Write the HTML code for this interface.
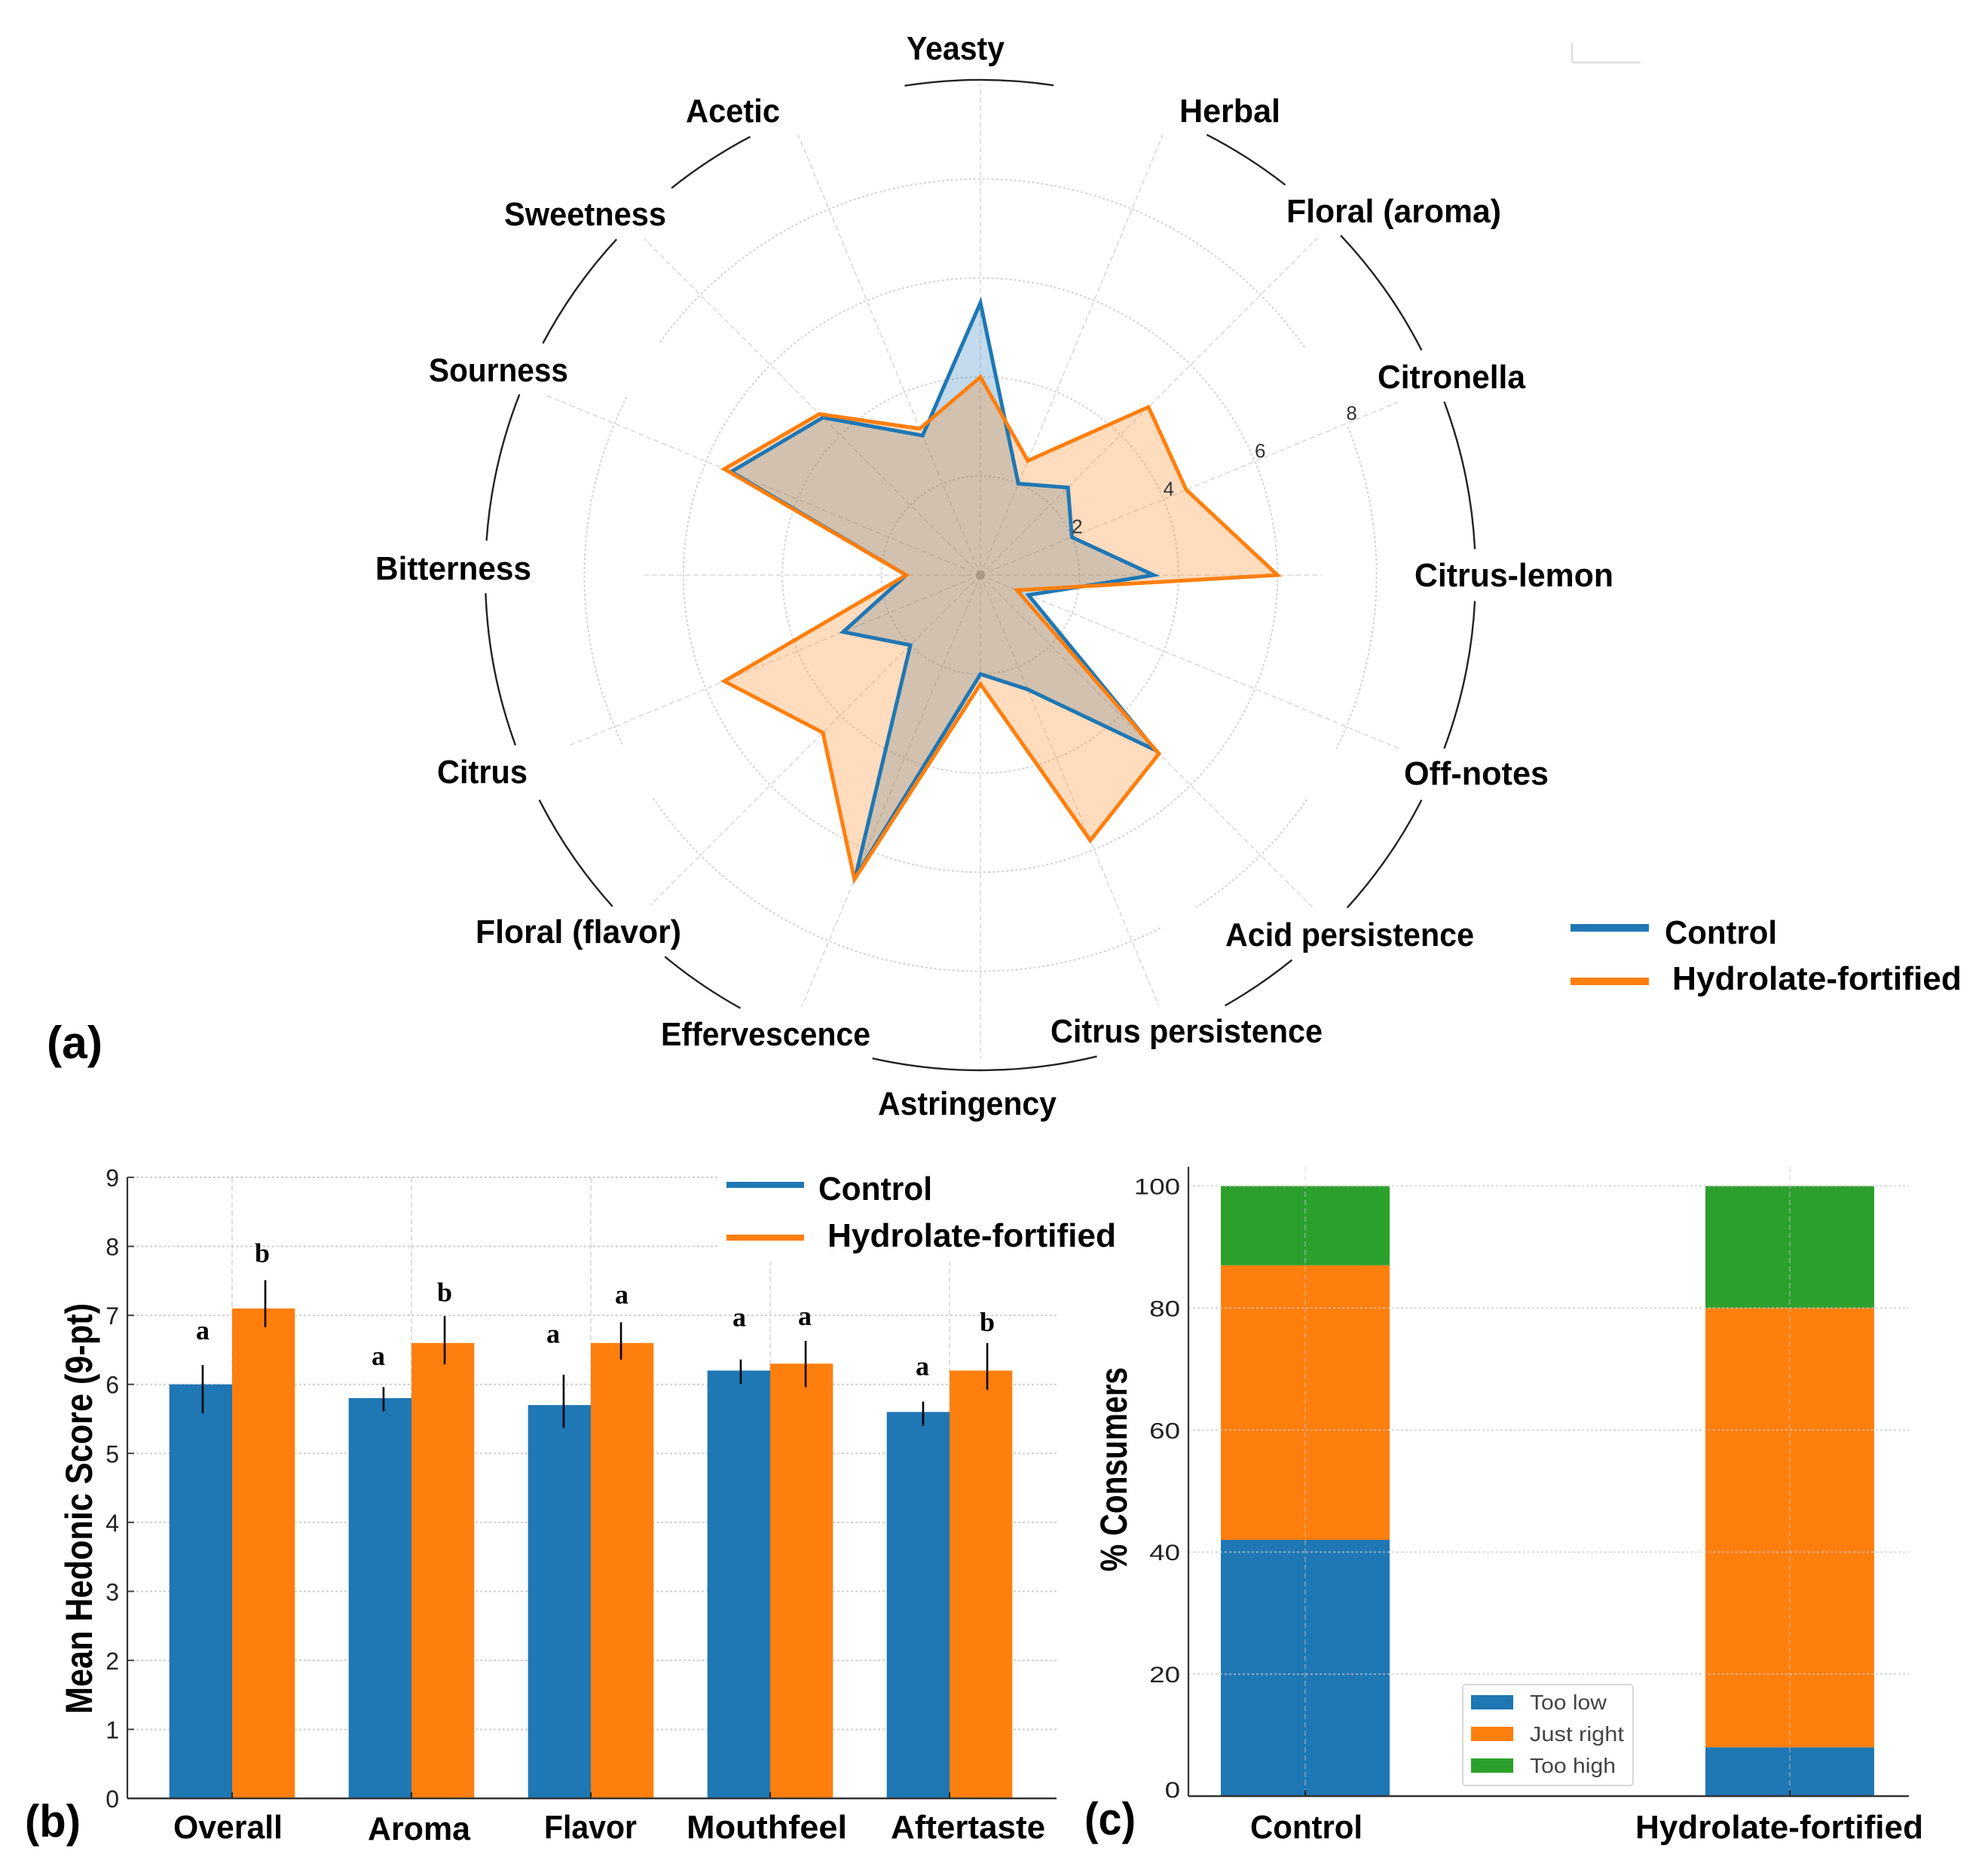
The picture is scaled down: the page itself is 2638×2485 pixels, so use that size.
<!DOCTYPE html>
<html lang="en">
<head>
<meta charset="utf-8">
<title>Sensory profile charts</title>
<style>
html,body{margin:0;padding:0;background:#fff;}
svg{display:block;}
text{font-family:"Liberation Sans","DejaVu Sans",sans-serif;}
.lab{font-weight:bold;font-size:44px;fill:#000;}
.title{font-weight:bold;font-size:50px;fill:#000;}
.panel{font-weight:bold;font-size:60px;fill:#000;}
</style>
</head>
<body>
<svg id="fig" xmlns="http://www.w3.org/2000/svg" width="2638" height="2485" viewBox="0 0 2638 2485">
  <rect width="2638" height="2485" fill="#fff"/>
  <g id="radar"></g>
  <g id="bars"></g>
  <g id="stack"></g>

  <path d="M2086,57 V81 Q2086,83 2089,83 H2177" fill="none" stroke="#dedede" stroke-width="2.5"/>

  <text class="panel" x="62" y="1404" textLength="74" lengthAdjust="spacingAndGlyphs">(a)</text>
  <text class="panel" x="33" y="2437" textLength="74" lengthAdjust="spacingAndGlyphs">(b)</text>
  <text class="panel" x="1439" y="2434" textLength="68" lengthAdjust="spacingAndGlyphs">(c)</text>

  <g>
    <rect x="2084" y="1226" width="104" height="10" fill="#1f77b4"/>
    <text class="lab" x="2209" y="1252" textLength="149" lengthAdjust="spacingAndGlyphs">Control</text>
    <rect x="2084" y="1297" width="104" height="10" fill="#ff7f0e"/>
    <text class="lab" x="2219" y="1313" textLength="384" lengthAdjust="spacingAndGlyphs">Hydrolate-fortified</text>
  </g>
</svg>
<script>
/* ---------- Panel (a) radar data ---------- */
const radarAxes = ["Yeasty","Herbal","Floral (aroma)","Citronella","Citrus-lemon","Off-notes","Acid persistence","Citrus persistence","Astringency","Effervescence","Floral (flavor)","Citrus","Bitterness","Sourness","Sweetness","Acetic"];
const radarControl = [5.5,2.0,2.5,2.0,3.5,1.05,5.0,2.5,2.0,6.6,2.0,3.0,1.5,5.45,4.5,3.05];
const radarHydrolate = [4.0,2.5,4.8,4.5,6.0,0.8,5.1,5.8,2.2,6.65,4.5,5.6,1.5,5.6,4.6,3.2];
const radarTicks = [2,4,6,8];

/* ---------- Panel (b) bar data ---------- */
const barCategories = ["Overall","Aroma","Flavor","Mouthfeel","Aftertaste"];
const barControl = [6.0,5.8,5.7,6.2,5.6];
const barHydrolate = [7.1,6.6,6.6,6.3,6.2];
const errControlLow = [5.58,5.61,5.37,6.01,5.40];
const errControlHigh = [6.28,5.96,6.14,6.36,5.75];
const errHydrolateLow = [6.83,6.29,6.36,5.96,5.92];
const errHydrolateHigh = [7.51,6.99,6.90,6.63,6.60];
const sigControl = ["a","a","a","a","a"];
const sigHydrolate = ["b","b","a","a","b"];
const sigControlLevel = [6.75,6.38,6.70,6.94,6.23];
const sigHydrolateLevel = [7.87,7.30,7.27,6.96,6.87];
const barTicks = [0,1,2,3,4,5,6,7,8,9];

/* ---------- Panel (c) stacked data ---------- */
const stackCategories = ["Control","Hydrolate-fortified"];
const stackTooLow = [42,8];
const stackJustRight = [45,72];
const stackTooHigh = [13,20];
const stackTicks = [0,20,40,60,80,100];

/* ---------- helpers ---------- */
const NS = "http://www.w3.org/2000/svg";
const BLUE = "#1f77b4", ORANGE = "#ff7f0e", GREEN = "#2ca02c";
function mk(tag, attrs, parent, txt) {
  const e = document.createElementNS(NS, tag);
  for (const k in attrs) e.setAttribute(k, attrs[k]);
  if (txt !== undefined) e.textContent = txt;
  parent.appendChild(e);
  return e;
}

/* ---------- radar ---------- */
const radarG = document.getElementById("radar");
const CX = 1301, CY = 763, UNIT = 65.7;
function rAngle(i) { return i * 2 * Math.PI / radarAxes.length; }
function rPoint(v, a) { return [CX + v * UNIT * Math.sin(a), CY - v * UNIT * Math.cos(a)]; }
function arcPath(v, a0, a1) {
  const p0 = rPoint(v, a0 * Math.PI / 180), p1 = rPoint(v, a1 * Math.PI / 180);
  const large = (a1 - a0) > 180 ? 1 : 0;
  return "M" + p0[0] + "," + p0[1] + " A" + (v * UNIT) + "," + (v * UNIT) + " 0 " + large + " 1 " + p1[0] + "," + p1[1];
}
/* how far each spoke reaches, in radial units, before being masked */
const spokeReach = [9.92,9.63,9.63,9.13,6.9,9.18,9.56,9.41,9.77,9.44,9.42,9.03,6.79,9.51,9.6,9.63];
radarAxes.forEach(function (name, i) {
  const p = rPoint(spokeReach[i], rAngle(i));
  const sp = mk("line", {x1: CX, y1: CY, x2: p[0], y2: p[1], stroke: "#d2d2d2", "stroke-width": 1.3, "stroke-dasharray": "7 4"}, radarG);
  
  
});
[2,4,6].forEach(function (v) {
  const c = mk("circle", {cx: CX, cy: CY, r: v * UNIT, fill: "none", stroke: "#d2d2d2", "stroke-width": 2, "stroke-dasharray": "3 3"}, radarG);
  
  
});
const ring8Spans = [[-54,55],[68,116],[124.5,147],[153,236],[244.7,296.7]];
ring8Spans.forEach(function (s) {
  const a = mk("path", {d: arcPath(8, s[0], s[1]), fill: "none", stroke: "#d2d2d2", "stroke-width": 2, "stroke-dasharray": "3 3"}, radarG);
  
  
});
const outerSpans = [[-8.8,8.5],[27.2,38],[46.7,63],[69.5,87],[93,110.5],[117,132.2],[141,150.4],[166.4,192.6],[209,219.6],[228,243],[249.9,267.9],[274,291.4],[297.9,312.7],[321.4,332.3]];
outerSpans.forEach(function (s) {
  const a = mk("path", {d: arcPath(10, s[0], s[1]), fill: "none", stroke: "#222", "stroke-width": 2.4}, radarG);
  
  
});
const hub = mk("circle", {cx: CX, cy: CY, r: 6, fill: "#b5b5b5"}, radarG);



function radarPoints(vals) {
  return vals.map(function (v, i) { return rPoint(v, rAngle(i)).join(","); }).join(" ");
}
const fillControl = mk("polygon", {points: radarPoints(radarControl), fill: BLUE, "fill-opacity": 0.27}, radarG);


const fillHydrolate = mk("polygon", {points: radarPoints(radarHydrolate), fill: ORANGE, "fill-opacity": 0.27}, radarG);


const polyControl = mk("polygon", {points: radarPoints(radarControl), fill: "none", stroke: BLUE, "stroke-width": 5, "stroke-linejoin": "miter"}, radarG);


const polyHydrolate = mk("polygon", {points: radarPoints(radarHydrolate), fill: "none", stroke: ORANGE, "stroke-width": 5, "stroke-linejoin": "miter"}, radarG);



radarTicks.forEach(function (v) {
  const p = rPoint(v, 3 * 2 * Math.PI / 16);
  const t = mk("text", {x: p[0] + 7, y: p[1] - 5, "text-anchor": "middle", "font-size": 26, fill: "#333"}, radarG, String(v));
  
  
});
/* label layout: left, right, baseline (same order as radarAxes) */
const radarLabelBox = [[1203,1333,79],[1565,1699,162],[1707,1992,295],[1828,2024,515],[1877,2141,778],[1863,2055,1041],[1626,1956,1255],[1394,1755,1383],[1165,1402,1479],[877,1155,1387],[631,904,1251],[580,700,1039],[498,705,769],[569,754,506],[669,884,299],[910,1035,162]];
radarAxes.forEach(function (name, i) {
  const b = radarLabelBox[i];
  const t = mk("text", {class: "lab", x: b[0], y: b[2], textLength: b[1] - b[0], lengthAdjust: "spacingAndGlyphs"}, radarG, name);
  
  
});

/* ---------- bars ---------- */
const barG = document.getElementById("bars");
function xB(i) { return 308 + i * 238; }
function yB(v) { return 2386 - v * 91.55; }
const B_W = 83.3, B_L = 169, B_R = 1402;
/* horizontal nudges (px) of whiskers and letters relative to their bar centre */
const errNudgeControl = [2.6,4.6,5.6,2.6,6.6];
const errNudgeHydrolate = [2.4,2.4,-1.6,5.4,8.4];
const sigNudgeControl = [2.6,-2.4,-8.4,0.6,5.6];
const sigNudgeHydrolate = [-1.6,2.4,-0.6,4.4,8.4];
barTicks.forEach(function (v) {
  const g = mk("line", {x1: B_L, x2: B_R, y1: yB(v), y2: yB(v), stroke: "#cfcfcf", "stroke-width": 2, "stroke-dasharray": "3 3"}, barG);
  
  
});
barCategories.forEach(function (c, i) {
  const g = mk("line", {x1: xB(i), x2: xB(i), y1: yB(9), y2: yB(0), stroke: "#cfcfcf", "stroke-width": 1.4, "stroke-dasharray": "7 4"}, barG);
  
  
});
const barLegendMask = mk("rect", {x: 952, y: 1548, width: 541, height: 126, fill: "#fff"}, barG);



barCategories.forEach(function (c, i) {
  const r1 = mk("rect", {x: xB(i) - B_W, y: yB(barControl[i]), width: B_W, height: yB(0) - yB(barControl[i]), fill: BLUE}, barG);
  
  
  const r2 = mk("rect", {x: xB(i), y: yB(barHydrolate[i]), width: B_W, height: yB(0) - yB(barHydrolate[i]), fill: ORANGE}, barG);
  
  
  const cc = xB(i) - B_W / 2, ch = xB(i) + B_W / 2;
  const xc = cc + errNudgeControl[i], xh = ch + errNudgeHydrolate[i];
  const e1 = mk("line", {x1: xc, x2: xc, y1: yB(errControlHigh[i]), y2: yB(errControlLow[i]), stroke: "#000", "stroke-width": 2.6}, barG);
  
  
  const e2 = mk("line", {x1: xh, x2: xh, y1: yB(errHydrolateHigh[i]), y2: yB(errHydrolateLow[i]), stroke: "#000", "stroke-width": 2.6}, barG);
  
  
  const s1 = mk("text", {x: cc + sigNudgeControl[i], y: yB(sigControlLevel[i]) + 9, "text-anchor": "middle", "font-size": 36, "font-weight": "bold", style: 'font-family:"Liberation Serif",serif'}, barG, sigControl[i]);
  
  
  const s2 = mk("text", {x: ch + sigNudgeHydrolate[i], y: yB(sigHydrolateLevel[i]) + 9, "text-anchor": "middle", "font-size": 36, "font-weight": "bold", style: 'font-family:"Liberation Serif",serif'}, barG, sigHydrolate[i]);
  
  
  const tk = mk("line", {x1: xB(i), x2: xB(i), y1: yB(0) - 8, y2: yB(0), stroke: "#222", "stroke-width": 2}, barG);
  
  
});
barTicks.forEach(function (v) {
  const tk = mk("line", {x1: B_L, x2: B_L + 9, y1: yB(v), y2: yB(v), stroke: "#444", "stroke-width": 2}, barG);
  
  
  const t = mk("text", {x: 158, y: yB(v) + 12, "text-anchor": "end", "font-size": 32, fill: "#222"}, barG, String(v));
  
  
});
const bAxisL = mk("line", {x1: B_L, x2: B_L, y1: yB(9), y2: yB(0), stroke: "#333", "stroke-width": 2.2}, barG);


const bAxisB = mk("line", {x1: B_L, x2: B_R, y1: yB(0), y2: yB(0), stroke: "#333", "stroke-width": 2.6}, barG);


/* label layout: left, right (same order as barCategories) */
const barLabelBox = [[230,375],[488,624],[722,845],[911,1124],[1182,1387]];
barCategories.forEach(function (c, i) {
  const b = barLabelBox[i];
  const t = mk("text", {class: "lab", x: b[0], y: i === 1 ? 2441 : 2439, textLength: b[1] - b[0], lengthAdjust: "spacingAndGlyphs"}, barG, c);
  
  
});
const bTitle = mk("text", {class: "title", transform: "translate(122,2274) rotate(-90)", x: 0, y: 0, textLength: 545, lengthAdjust: "spacingAndGlyphs"}, barG, "Mean Hedonic Score (9-pt)");


const bl1 = mk("rect", {x: 964, y: 1568, width: 103, height: 8, fill: BLUE}, barG);


const blt1 = mk("text", {class: "lab", x: 1086, y: 1592, textLength: 151, lengthAdjust: "spacingAndGlyphs"}, barG, "Control");


const bl2 = mk("rect", {x: 964, y: 1638, width: 103, height: 8, fill: ORANGE}, barG);


const blt2 = mk("text", {class: "lab", x: 1098, y: 1654, textLength: 383, lengthAdjust: "spacingAndGlyphs"}, barG, "Hydrolate-fortified");



/* ---------- stacked ---------- */
const stackG = document.getElementById("stack");
function xC(i) { return 1732 + i * 643; }
function yC(v) { return 2383 - v * 8.095; }
const C_W = 224, C_L = 1577, C_R = 2533;
stackCategories.forEach(function (c, i) {
  const a = stackTooLow[i], b = a + stackJustRight[i], d = b + stackTooHigh[i];
  const s1 = mk("rect", {x: xC(i) - C_W / 2, y: yC(a), width: C_W, height: yC(0) - yC(a), fill: BLUE}, stackG);
  
  
  const s2 = mk("rect", {x: xC(i) - C_W / 2, y: yC(b), width: C_W, height: yC(a) - yC(b), fill: ORANGE}, stackG);
  
  
  const s3 = mk("rect", {x: xC(i) - C_W / 2, y: yC(d), width: C_W, height: yC(b) - yC(d), fill: GREEN}, stackG);
  
  
  const g = mk("line", {x1: xC(i), x2: xC(i), y1: 1548, y2: yC(0), stroke: "#c8c8c8", "stroke-opacity": 0.6, "stroke-width": 1.4, "stroke-dasharray": "7 4"}, stackG);
  
  
  const tk = mk("line", {x1: xC(i), x2: xC(i), y1: yC(0) - 8, y2: yC(0), stroke: "#222", "stroke-width": 2}, stackG);
  
  
});
stackTicks.forEach(function (v) {
  const g = mk("line", {x1: C_L, x2: C_R, y1: yC(v), y2: yC(v), stroke: "#c8c8c8", "stroke-opacity": 0.7, "stroke-width": 2, "stroke-dasharray": "3 3"}, stackG);
  
  
  const s = String(v);
  const t = mk("text", {x: 1566, y: yC(v) + (v === 0 ? 2 : 11), "text-anchor": "end", "font-size": 30, fill: "#222", textLength: s.length * 20.4, lengthAdjust: "spacingAndGlyphs"}, stackG, s);
  
  
});
const cAxisL = mk("line", {x1: C_L, x2: C_L, y1: 1548, y2: yC(0), stroke: "#333", "stroke-width": 2.2}, stackG);


const cAxisB = mk("line", {x1: C_L, x2: C_R, y1: yC(0), y2: yC(0), stroke: "#333", "stroke-width": 2.6}, stackG);


/* label layout: left, right (same order as stackCategories) */
const stackLabelBox = [[1659,1808],[2170,2552]];
stackCategories.forEach(function (c, i) {
  const b = stackLabelBox[i];
  const t = mk("text", {class: "lab", x: b[0], y: 2439, textLength: b[1] - b[0], lengthAdjust: "spacingAndGlyphs"}, stackG, c);
  
  
});
const cTitle = mk("text", {class: "title", transform: "translate(1495,2085) rotate(-90)", x: 0, y: 0, textLength: 271, lengthAdjust: "spacingAndGlyphs"}, stackG, "% Consumers");



const cLegBox = mk("rect", {x: 1941, y: 2235, width: 226, height: 134, rx: 4, fill: "#fff", "fill-opacity": 0.9, stroke: "#d8d8d8", "stroke-width": 2}, stackG);


const stackLegendLabels = ["Too low","Just right","Too high"];
const stackLegendColors = [BLUE, ORANGE, GREEN];
const stackLegendWidths = [102,125,114];
stackLegendLabels.forEach(function (l, i) {
  const sw = mk("rect", {x: 1952, y: 2249 + i * 42, width: 56, height: 19, fill: stackLegendColors[i]}, stackG);
  
  
  const t = mk("text", {x: 2030, y: 2268 + i * 42, "font-size": 28, fill: "#444", textLength: stackLegendWidths[i], lengthAdjust: "spacingAndGlyphs"}, stackG, l);
  
  
});
</script>
</body>
</html>
